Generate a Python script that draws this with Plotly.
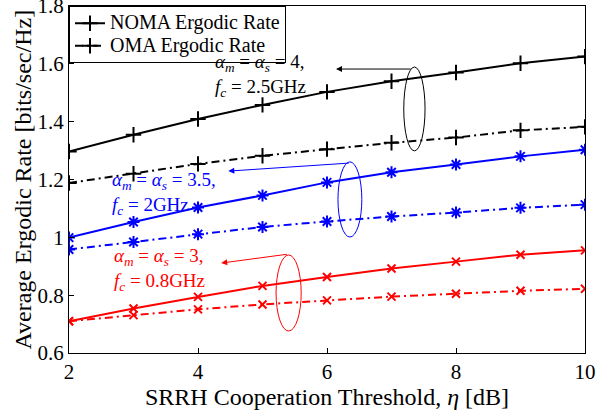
import plotly.graph_objects as go

# SRRH cooperation threshold (dB)
eta_db = [2, 3, 4, 5, 6, 7, 8, 9, 10]

# Average ergodic rate [bits/sec/Hz]
noma_a4 = [1.297, 1.355, 1.409, 1.458, 1.503, 1.540, 1.570, 1.602, 1.625]
oma_a4 = [1.188, 1.220, 1.254, 1.282, 1.305, 1.327, 1.345, 1.370, 1.382]
noma_a35 = [0.999, 1.053, 1.103, 1.145, 1.190, 1.225, 1.252, 1.280, 1.303]
oma_a35 = [0.958, 0.984, 1.011, 1.036, 1.055, 1.072, 1.086, 1.102, 1.113]
noma_a3 = [0.710, 0.754, 0.794, 0.832, 0.863, 0.892, 0.916, 0.940, 0.955]
oma_a3 = [0.710, 0.731, 0.751, 0.768, 0.782, 0.795, 0.805, 0.815, 0.822]

x_ticks = [2, 4, 6, 8, 10]
y_ticks = [0.6, 0.8, 1.0, 1.2, 1.4, 1.6, 1.8]

FONT = "Liberation Serif"
DASHDOT = "8px,4px,2px,4px"

fig = go.Figure()


def legend_name(text):
    # larger glyphs inside compact legend rows
    return f"<span style='font-size:20px'>{text}</span>"


def add_series(y, color, symbol, msize, dash, name=None):
    fig.add_trace(go.Scatter(
        x=eta_db, y=y, mode="lines+markers",
        name=legend_name(name) if name else None, showlegend=name is not None,
        line=dict(color=color, width=2, dash=dash),
        marker=dict(symbol=symbol, size=msize, color=color,
                    line=dict(color=color, width=2)),
    ))


add_series(noma_a4, "black", "cross-thin", 11, "solid", "NOMA Ergodic Rate")
add_series(oma_a4, "black", "cross-thin", 11, DASHDOT, "OMA Ergodic Rate")
add_series(noma_a35, "#0000ff", "asterisk-open", 10, "solid")
add_series(oma_a35, "#0000ff", "asterisk-open", 10, DASHDOT)
add_series(noma_a3, "#ff0000", "x-thin", 8, "solid")
add_series(oma_a3, "#ff0000", "x-thin", 8, DASHDOT)

# ellipses grouping each NOMA/OMA pair
ellipses = [
    ("black", 7.19, 7.52, 1.299, 1.589),
    ("#0000ff", 6.17, 6.54, 1.001, 1.261),
    ("#ff0000", 5.21, 5.60, 0.676, 0.939),
]
for col, x0, x1, y0, y1 in ellipses:
    fig.add_shape(type="circle", xref="x", yref="y", x0=x0, x1=x1, y0=y0, y1=y1,
                  line=dict(color=col, width=1))

# arrows from the ellipses to the parameter labels
arrows = [
    ("black", 7.32, 1.582, 6.14, 1.582),
    ("#0000ff", 6.36, 1.257, 4.47, 1.229),
    ("#ff0000", 5.40, 0.942, 4.36, 0.911),
]
for col, tx, ty, hx, hy in arrows:
    fig.add_annotation(x=hx, y=hy, ax=tx, ay=ty, xref="x", yref="y",
                       axref="x", ayref="y", text="", showarrow=True,
                       arrowhead=2, arrowsize=1.2, arrowwidth=1, arrowcolor=col)

ALPHA = "<i>α</i><sub><i>m</i></sub> = <i>α</i><sub><i>s</i></sub> = "
FC = "<i>f</i><sub><i>c</i></sub> = "
labels = [
    ("black", 4.23, 1.558, ALPHA + "4,<br>" + FC + "2.5GHz"),
    ("#0000ff", 2.64, 1.153, ALPHA + "3.5,<br>" + FC + "2GHz"),
    ("#ff0000", 2.67, 0.890, ALPHA + "3,<br>" + FC + "0.8GHz"),
]
for col, x, y, txt in labels:
    fig.add_annotation(x=x, y=y, xref="x", yref="y", text=txt, showarrow=False,
                       xanchor="left", yanchor="middle", align="left",
                       font=dict(family=FONT, size=19, color=col))

axis_common = dict(
    showline=True, mirror=True, linecolor="black", linewidth=1,
    ticks="inside", ticklen=5, tickcolor="black", showgrid=False, zeroline=False,
    tickfont=dict(family=FONT, size=21, color="black"),
    ticklabeloverflow="allow", automargin=False,
)

fig.update_layout(
    width=596, height=414,
    margin=dict(l=69, r=11, t=6, b=61),
    plot_bgcolor="white", paper_bgcolor="white",
    xaxis=dict(range=[2, 10], tickvals=x_ticks,
               title=dict(text="SRRH Cooperation Threshold, <i>η</i> [dB]",
                          font=dict(family=FONT, size=24, color="black"), standoff=0),
               **axis_common),
    yaxis=dict(range=[0.6, 1.8], tickvals=y_ticks, **axis_common),
    legend=dict(x=0, y=1, xanchor="left", yanchor="top",
                bgcolor="white", bordercolor="black", borderwidth=1,
                font=dict(family=FONT, size=15, color="black"),
                tracegroupgap=0, itemwidth=30),
)

# y-axis title placed as rotated text beside the tick labels
fig.add_annotation(x=0, y=0.5, xref="paper", yref="paper", xshift=-47,
                   text="Average Ergodic Rate [bits/sec/Hz]", textangle=-90,
                   showarrow=False, xanchor="center", yanchor="middle",
                   font=dict(family=FONT, size=24, color="black"))

fig.write_html("out.html")
